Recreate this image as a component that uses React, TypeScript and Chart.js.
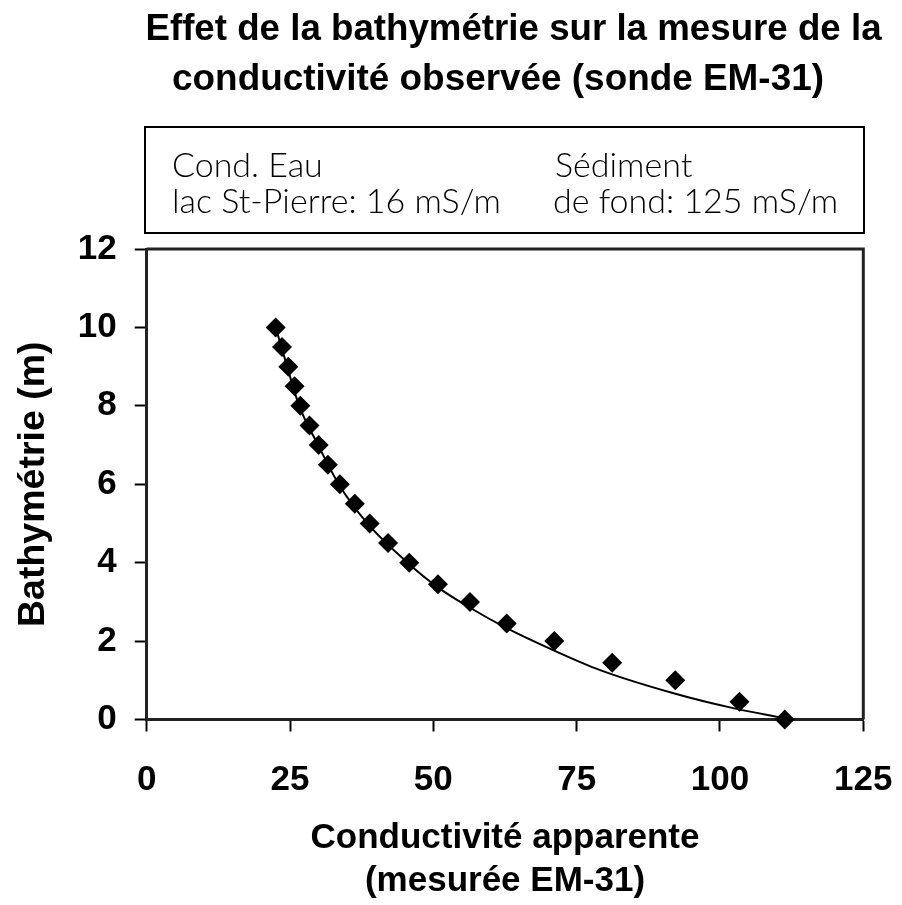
import { useEffect, useRef } from "react";
import { Chart, registerables } from "chart.js";

Chart.register(...registerables);

const TITLE_LINES = ["Effet de la bathymétrie sur la mesure de la", "conductivité observée (sonde EM-31)"];
const NOTE_LEFT = ["Cond. Eau", "lac St-Pierre: 16 mS/m"];
const NOTE_RIGHT = ["Sédiment", "de fond: 125 mS/m"];
const X_TITLE = ["Conductivité apparente", "(mesurée EM-31)"];
const Y_TITLE = "Bathymétrie (m)";

// Measured points (conductivité apparente, bathymétrie)
const conductivity = [22.5, 23.6, 24.7, 25.8, 26.8, 28.4, 30.0, 31.6, 33.7, 36.3, 38.9, 42.1, 45.8, 50.8, 56.4, 62.8, 71.1, 81.2, 92.2, 103.4, 111.3];
const depth = [10, 9.5, 9, 8.5, 8, 7.5, 7, 6.5, 6, 5.5, 5, 4.5, 4, 3.45, 3, 2.45, 2, 1.45, 1, 0.45, 0.0];

// Fitted curve
const fitConductivity = [22.5, 24.5, 26.6, 29.9, 33.5, 38.5, 45.5, 50.8, 56.4, 62.8, 70.9, 79.1, 91.9, 102.3, 111.3];
const fitDepth = [10.0, 9.0, 8.0, 7.0, 6.0, 5.0, 4.0, 3.37, 2.85, 2.33, 1.77, 1.26, 0.67, 0.29, 0.03];

const X_MIN = 0, X_MAX = 125, X_STEP = 25;
const Y_MIN = 0, Y_MAX = 12, Y_STEP = 2;

const FONT = "'Liberation Sans', Arial, sans-serif";

const decorPlugin = {
  id: "decor",
  beforeDatasetsDraw(chart: any) {
    const { ctx, chartArea } = chart;
    ctx.save();
    ctx.strokeStyle = "#222";
    ctx.lineWidth = 3;
    ctx.beginPath();
    ctx.moveTo(chartArea.left, chartArea.top);
    ctx.lineTo(chartArea.right, chartArea.top);
    ctx.lineTo(chartArea.right, chartArea.bottom);
    ctx.stroke();
    ctx.restore();
  },
  afterDraw(chart: any) {
    const { ctx } = chart;
    ctx.save();
    ctx.fillStyle = "#000";
    ctx.textBaseline = "alphabetic";
    ctx.textAlign = "center";
    ctx.font = `bold 36.7px ${FONT}`;
    ctx.fillText(TITLE_LINES[0], 513.5, 40);
    ctx.font = `bold 36.9px ${FONT}`;
    ctx.fillText(TITLE_LINES[1], 498, 90);

    ctx.strokeStyle = "#000";
    ctx.lineWidth = 2;
    ctx.strokeRect(145, 127, 719, 106);

    ctx.textAlign = "left";
    ctx.font = `300 34px Lato, 'Noto Sans', sans-serif`;
    ctx.fillText(NOTE_LEFT[0], 172, 177);
    ctx.fillText(NOTE_LEFT[1], 172, 213);
    ctx.fillText(NOTE_RIGHT[0], 555, 177);
    ctx.fillText(NOTE_RIGHT[1], 553, 213);
    ctx.restore();
  },
};

export default function App() {
  const ref = useRef<HTMLCanvasElement | null>(null);

  useEffect(() => {
    if (!ref.current) return;
    const points = conductivity.map((x, i) => ({ x, y: depth[i] }));
    const fit = fitConductivity.map((x, i) => ({ x, y: fitDepth[i] }));
    const tickFont = { family: FONT, size: 35, weight: "bold" as const };
    const chart = new Chart(ref.current, {
      type: "scatter",
      data: {
        datasets: [
          {
            label: "Mesures",
            data: points,
            pointStyle: "rectRot",
            pointRadius: 10,
            pointBackgroundColor: "#000",
            pointBorderColor: "#000",
            pointBorderWidth: 0,
            showLine: false,
            clip: false as any,
            order: 0,
          },
          {
            label: "Ajustement",
            data: fit,
            showLine: true,
            borderColor: "#000",
            borderWidth: 2,
            pointRadius: 0,
            cubicInterpolationMode: "monotone",
            clip: false as any,
            order: 1,
          },
        ],
      },
      options: {
        animation: false,
        responsive: false,
        devicePixelRatio: 1,
        layout: { padding: { top: 249, right: 38.7, left: 0, bottom: 0 } },
        plugins: { legend: { display: false }, tooltip: { enabled: false }, title: { display: false } },
        scales: {
          x: {
            type: "linear",
            min: X_MIN,
            max: X_MAX,
            ticks: { stepSize: X_STEP, font: tickFont, color: "#000", padding: 28, maxRotation: 0 },
            grid: { drawOnChartArea: false, drawTicks: true, tickLength: 12, tickWidth: 2, tickColor: "#000" },
            border: { display: true, color: "#222", width: 3 },
            title: { display: true, text: X_TITLE, font: { family: FONT, size: 35, weight: "bold", lineHeight: 1.24 }, color: "#000", padding: { top: 0, bottom: 2 } },
            afterFit(scale: any) {
              scale.height = 185.5;
              scale.paddingLeft = 0;
              scale.paddingRight = 0;
            },
          },
          y: {
            type: "linear",
            min: Y_MIN,
            max: Y_MAX,
            ticks: { stepSize: Y_STEP, font: tickFont, color: "#000", padding: 18 },
            grid: { drawOnChartArea: false, drawTicks: true, tickLength: 12, tickWidth: 2, tickColor: "#000" },
            border: { display: true, color: "#222", width: 3 },
            title: { display: true, text: Y_TITLE, font: { family: FONT, size: 37.5, weight: "bold", lineHeight: 1.2 }, color: "#000", padding: { top: 11, bottom: 0 } },
            afterFit(scale: any) {
              scale.width = 146.7;
              scale.paddingTop = 0;
              scale.paddingBottom = 0;
            },
          },
        },
      },
      plugins: [decorPlugin],
    });
    return () => chart.destroy();
  }, []);

  return (
    <div style={{ position: "absolute", left: 0, top: 0, width: 902, height: 905, background: "#fff" }}>
      <canvas ref={ref} width={902} height={905} style={{ width: 902, height: 905, display: "block" }} />
    </div>
  );
}
